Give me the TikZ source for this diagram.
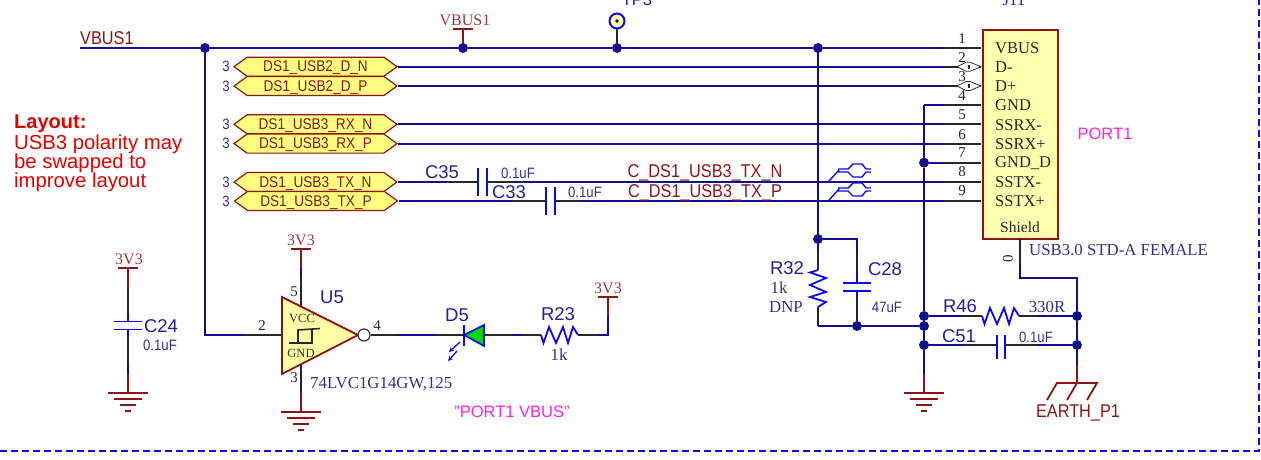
\documentclass[tikz,border=0pt]{standalone}
\usepackage{fontspec}
\setmainfont{Liberation Serif}
\setsansfont{Liberation Sans}
\newfontfamily\condsans[FakeStretch=0.88]{Liberation Sans}
\usetikzlibrary{shapes.symbols,arrows.meta}
\definecolor{wire}{HTML}{10108A}
\definecolor{plate}{HTML}{0A0AF0}
\definecolor{dred}{HTML}{8C1414}
\definecolor{lbl}{HTML}{20209A}
\definecolor{lblb}{HTML}{303090}
\definecolor{portfill}{HTML}{FFFF80}
\definecolor{boxfill}{HTML}{FFFFB0}
\definecolor{magentaT}{HTML}{FF20F0}
\tikzset{
  wr/.style={draw=wire,line width=1.8pt},
  stub/.style={draw=black!85,line width=1.8pt},
  rd/.style={draw=dred,line width=1.8pt},
  pl/.style={draw=plate,line width=1.8pt},
  dot/.style={circle,fill=wire,draw=none,minimum size=10pt,inner sep=0pt},
  refT/.style={font=\sffamily\fontsize{18.5}{18.5}\selectfont,text=lbl,inner sep=0pt},
  valT/.style={font=\condsans\fontsize{15}{15}\selectfont,text=lblb,inner sep=0pt},
  serT/.style={font=\fontsize{16.8}{16.8}\selectfont,text=lblb,inner sep=0pt},
  pinT/.style={font=\fontsize{15}{15}\selectfont,text=black!85,inner sep=0pt},
  boxT/.style={font=\fontsize{16.5}{16.5}\selectfont,text=black!85,inner sep=0pt,anchor=west},
  pwrT/.style={font=\fontsize{16}{16}\selectfont,text=dred!85!white,inner sep=0pt},
  netT/.style={font=\condsans\fontsize{18.5}{18.5}\selectfont,text=dred,inner sep=0pt},
  portnode/.style={shape=signal,signal to=west and east,signal pointer angle=72,draw=dred,fill=portfill,line width=1.2pt,minimum width=163pt,minimum height=19pt,inner sep=0pt,text height=10.5pt,text depth=0pt,font=\condsans\fontsize{15.5}{15.5}\selectfont,text=dred},
  magT/.style={font=\sffamily\fontsize{16.5}{16.5}\selectfont,text=magentaT,inner sep=0pt},
  zig/.pic={\draw[draw=plate,line width=1.8pt,line join=miter] (0,0)--(2.5,8)--(8,-8)--(15,8)--(22,-8)--(27,8)--(32,-8)--(37,0);},
  gndsym/.pic={\draw[rd] (-20,0)--(20,0) (-14,6)--(14,6) (-8,12)--(8,12) (-3,18)--(3,18);},
  pwrbar/.pic={\draw[rd] (-10,0)--(10,0);},
  dpmark/.pic={\draw[draw=plate,line width=1.4pt] (0,12)--(10,1) (9,0)--(19,0)--(24,-5)--(33,-5)--(37,0)--(42,0) (9,3)--(19,3)--(24,8)--(33,8)--(37,3)--(42,3);}
}
\begin{document}
\begin{tikzpicture}[x=1pt,y=-1pt]
\useasboundingbox (0,0) rectangle (1261,460);
% frame
\coordinate (fa) at (0,451); \coordinate (fb) at (1259,451); \coordinate (fc) at (1259,0);
\draw[draw=plate,line width=1.6pt,dash pattern=on 7pt off 4pt] (fa)--(fb)--(fc);
% connector
\node[draw=dred,fill=boxfill,line width=2pt,minimum width=75pt,minimum height=209pt,inner sep=0pt,anchor=north west] (J) at (982,29) {};
\foreach \n/\y in {1/48,2/66.7,3/86,4/105,5/124.3,6/143.6,7/162.7,8/182,9/201}{
  \coordinate (p\n) at (981,\y);
  \coordinate (s\n) at (943,\y);
}
\foreach \n/\y/\t in {1/48/VBUS,2/67.5/D-,3/86.5/D+,4/105.5/GND,5/125/SSRX-,6/144/SSRX+,7/163/GND\_D,8/182.5/SSTX-,9/201.5/SSTX+}
  \node[boxT] (t\n) at (995,\y) {\t};
\node[font=\fontsize{15.5}{15.5}\selectfont,text=black!85,inner sep=0pt] (shT) at (1020,227) {Shield};
\node[serT,text=lbl] (J11) at (1014,0) {J11};
\node[magT] (PORT) at (1105,134) {PORT1};
\node[serT,anchor=west] (usb) at (1029,250) {USB3.0 STD-A FEMALE};
\node[pinT,rotate=90] (zero) at (1008,259) {0};
% hex ports
\node[portnode] (a) at (315.5,66.7) {DS1\_USB2\_D\_N};
\node[portnode] (b) at (315.5,86) {DS1\_USB2\_D\_P};
\node[portnode] (c) at (315.5,124.3) {DS1\_USB3\_RX\_N};
\node[portnode] (d) at (315.5,143.6) {DS1\_USB3\_RX\_P};
\node[portnode] (e) at (315.5,182) {DS1\_USB3\_TX\_N};
\node[portnode] (f) at (316,201) {DS1\_USB3\_TX\_P};
\foreach \y/\q in {66.7/a,86/b,124.3/c,143.6/d,182/e,201/f}
  \node[valT] (k\q) at (226,\y) {3};
% junction coordinates
\coordinate (vs) at (80,48);
\node[dot] (j1) at (205,48) {};
\node[dot] (j2) at (463,48) {};
\node[dot] (j3) at (617,48) {};
\node[dot] (j4) at (818,48) {};
\node[dot] (j5) at (924,162.7) {};
\node[dot] (j6) at (818,239) {};
\node[dot] (j7) at (857,326) {};
\node[dot] (j8) at (924,316) {};
\node[dot] (j9) at (924,326) {};
\node[dot] (j10) at (924,345) {};
\node[dot] (j11) at (1077,316) {};
\node[dot] (j12) at (1077,345) {};
\coordinate (g4) at (924,105);
% main wires
\draw[wr] (vs)--(j1)--(j2)--(j3)--(j4)--(s1);
\draw[stub] (s1)--(p1);
\draw[wr] (a.east)--(s2); \draw[stub] (s2)--(p2);
\draw[wr] (b.east)--(s3); \draw[stub] (s3)--(p3);
\draw[wr] (c.east)--(s5); \draw[stub] (s5)--(p5);
\draw[wr] (d.east)--(s6); \draw[stub] (s6)--(p6);
\draw[wr] (g4)--(s4); \draw[stub] (s4)--(p4);
\draw[wr] (j5)--(s7); \draw[stub] (s7)--(p7);
% clock symbols on D-/D+
\foreach \n in {2,3}{
  \draw[draw=black!80,fill=white,line width=.8pt] ([xshift=-24pt]p\n) --([xshift=-15pt,yshift=-4.5pt]p\n)--([xshift=-11pt,yshift=-4.5pt]p\n)--(p\n)--([xshift=-11pt,yshift=4.5pt]p\n)--([xshift=-15pt,yshift=4.5pt]p\n)--cycle;
  \fill[black!85] ([xshift=-13.5pt,yshift=-2pt]p\n) rectangle ([xshift=-11.5pt,yshift=2pt]p\n);
}
\foreach \n/\y in {1/39,2/58,3/77,4/96,5/115,6/135,7/153,8/172,9/191}
  \node[pinT] (n\n) at (962,\y) {\n};
% series caps
\coordinate (c35l) at (478,182); \coordinate (c35r) at (487,182);
\coordinate (c33l) at (546,201); \coordinate (c33r) at (555,201);
\coordinate (e1) at (445,182); \coordinate (e2) at (513,182);
\coordinate (f1) at (511,201); \coordinate (f2) at (581,201);
\draw[wr] (e.east)--(e1); \draw[stub] (e1)--(c35l);
\draw[stub] (c35r)--(e2); \draw[wr] (e2)--(s8); \draw[stub] (s8)--(p8);
\draw[wr] (f.east)--(f1); \draw[stub] (f1)--(c33l);
\draw[stub] (c33r)--(f2); \draw[wr] (f2)--(s9); \draw[stub] (s9)--(p9);
\draw[pl] (478,168)--(478,196) (487,168)--(487,196);
\draw[pl] (546,187)--(546,215) (555,187)--(555,215);
\node[refT] (C35) at (442,172) {C35};
\node[valT] (v35) at (518,173) {0.1uF};
\node[refT] (C33) at (509,192) {C33};
\node[valT] (v33) at (585,192) {0.1uF};
\node[netT] (tn) at (705,172.5) {C\_DS1\_USB3\_TX\_N};
\node[netT] (tp) at (705,192.5) {C\_DS1\_USB3\_TX\_P};
\pic at (829,169) {dpmark};
\pic at (829,188) {dpmark};
% VBUS1 labels
\node[netT,anchor=west] (VB) at (80,38) {VBUS1};
\coordinate (pw1) at (463,29);
\draw[rd] (pw1)--(j2);
\pic at (pw1) {pwrbar};
\node[pwrT] (VB2) at (465,20) {VBUS1};
% test point
\node[circle,draw=plate,fill=portfill!70!white,line width=2pt,minimum size=15pt,inner sep=0pt] (TP) at (617,21) {};
\fill[black] (TP.center) circle (1.8pt);
\draw[stub] (TP.south)--(j3);
\node[font=\sffamily\fontsize{16.5}{16.5}\selectfont,text=lbl,inner sep=0pt] (TP3) at (637,0) {TP3};
% R32 C28
\coordinate (r32t) at (818,270); \coordinate (r32b) at (818,307);
\coordinate (r32c) at (818,326); \coordinate (c28t) at (857,239);
\coordinate (c28a) at (857,283); \coordinate (c28b) at (857,291);
\draw[wr] (j4)--(j6);
\draw[wr] (j6)--(818,250); \draw[stub] (818,250)--(r32t);
\pic[rotate=-90] at (r32t) {zig};
\draw[stub] (r32b)--(r32c); \draw[wr] (r32c)--(j7)--(j9);
\draw[wr] (j6)--(c28t)--(857,250); \draw[stub] (857,250)--(c28a);
\draw[stub] (c28b)--(j7);
\draw[pl] (843,283)--(871,283) (843,291)--(871,291) (857,275)--(c28a) (c28b)--(857,298);
\node[refT] (R32) at (787,268) {R32};
\node[serT] (r1k) at (779,288) {1k};
\node[serT] (dnp) at (786,307) {DNP};
\node[refT] (C28) at (885,269) {C28};
\node[valT] (v28) at (887,307) {47uF};
% ground rail
\coordinate (g1) at (924,374); \coordinate (g2) at (924,393);
\draw[wr] (g4)--(j5)--(j8)--(j9)--(j10)--(g1);
\draw[rd] (g1)--(g2);
\pic at (g2) {gndsym};
% R46 C51
\coordinate (r46l) at (982,316); \coordinate (r46r) at (1019,316);
\draw[wr] (j8)--(963,316); \draw[stub] (963,316)--(r46l);
\pic at (r46l) {zig};
\draw[stub] (r46r)--(1038,316); \draw[wr] (1038,316)--(j11);
\draw[wr] (j10)--(963,345); \draw[stub] (963,345)--(997,345);
\draw[stub] (1005,345)--(1038,345); \draw[wr] (1038,345)--(j12);
\draw[pl] (997,335)--(997,359) (1005,335)--(1005,359);
\node[refT] (R46) at (960,306) {R46};
\node[serT] (v46) at (1047,307) {330R};
\node[refT] (C51) at (959,336) {C51};
\node[valT] (v51) at (1036,337) {0.1uF};
% shield
\coordinate (sa) at (1020,239); \coordinate (sb) at (1020,278); \coordinate (sc) at (1077,278);
\coordinate (ea) at (1077,365); \coordinate (eb) at (1077,383);
\draw[wr,line join=miter] (sa)--(sb)--(sc)--(j11)--(j12)--(ea);
\draw[stub] (sa)--(1020,265);
\draw[rd] (ea)--(eb);
\draw[rd] (1047,400)--(1057,383)--(1097,383)--(1087,400) (eb)--(1067,400);
\node[netT,text=dred] (EARTH) at (1078,413) {EARTH\_P1};
% C24
\coordinate (a0) at (128,268); \coordinate (a1) at (128,287); \coordinate (a2) at (128,314);
\coordinate (a3) at (128,336); \coordinate (a4) at (128,365); \coordinate (a5) at (128,374); \coordinate (a6) at (128,393);
\draw[rd] (a0)--(a1); \draw[stub] (a1)--(a2); \draw[stub] (a3)--(a4); \draw[wr] (a4)--(a5); \draw[rd] (a5)--(a6);
\draw[pl] (114,321.5)--(142,321.5) (114,329.5)--(142,329.5) (a2)--(128,321.5) (128,329.5)--(a3);
\pic at (a0) {pwrbar};
\pic at (a6) {gndsym};
\node[pwrT] (p3a) at (129,259) {3V3};
\node[refT] (C24) at (161,326) {C24};
\node[valT] (v24) at (160,345) {0.1uF};
% U5
\coordinate (ua) at (282,297); \coordinate (ub) at (282,374); \coordinate (uc) at (358,335);
\coordinate (ui) at (282,335); \coordinate (ul) at (205,335); \coordinate (um) at (243,335);
\coordinate (v0) at (301,249); \coordinate (v1) at (301,268); \coordinate (v2) at (301,277); \coordinate (v3) at (301,306);
\coordinate (w0) at (301,365); \coordinate (w1) at (301,393); \coordinate (w2) at (301,412);
\draw[wr,line join=miter] (j1)--(ul)--(um); \draw[stub] (um)--(ui);
\draw[rd] (v0)--(v1); \draw[wr] (v1)--(v2); \draw[stub] (v2)--(v3);
\draw[stub] (w0)--(w1); \draw[rd] (w1)--(w2);
\pic at (v0) {pwrbar};
\pic at (w2) {gndsym};
\draw[draw=dred,fill=portfill!70!white,line width=1.8pt,line join=miter] (ua)--(uc)--(ub)--cycle;
\draw[draw=black!85,line width=1.6pt] (289,343)--(312,343)--(312,329) (298,343)--(298,330)--(320,328.5);
\node[circle,draw=black!80,fill=white,line width=1.2pt,minimum size=12pt,inner sep=0pt] (bub) at (364,335) {};
\node[pwrT] (p3b) at (301,240) {3V3};
\node[pinT] (n2x) at (262,326) {2};
\node[pinT] (n5x) at (294,292) {5};
\node[pinT] (n3x) at (294,378) {3};
\node[pinT] (n4x) at (377,326) {4};
\node[refT] (U5) at (332,297) {U5};
\node[font=\fontsize{12.5}{12.5}\selectfont,text=black!80,inner sep=0pt] (vcc) at (302,318) {VCC};
\node[font=\fontsize{12.5}{12.5}\selectfont,text=black!80,inner sep=0pt] (gnd) at (301,353) {GND};
\node[serT,anchor=west] (part) at (310,384) {74LVC1G14GW,125};
% D5 R23
\coordinate (db) at (464,335); \coordinate (dt) at (484,335);
\coordinate (ra) at (541,335); \coordinate (rb) at (578,335);
\coordinate (rc) at (608,335); \coordinate (rd2) at (608,297);
\draw[stub] (bub.east)--(397,335); \draw[wr] (397,335)--(435,335); \draw[stub] (435,335)--(db);
\draw[stub] (dt)--(512,335); \draw[wr] (512,335)--(522,335); \draw[stub] (522,335)--(ra);
\draw[fill=green!85!black,draw=plate,line width=1.6pt] (db)--(484,325)--(484,346)--cycle;
\draw[pl] (464,325)--(464,346);
\draw[draw=plate,line width=1.3pt,-{Stealth[length=5pt,width=5pt]}] (460,342)--(449,352);
\draw[draw=plate,line width=1.3pt,-{Stealth[length=5pt,width=5pt]}] (457,351)--(448,361);
\pic at (ra) {zig};
\draw[stub] (rb)--(598,335); \draw[wr,line join=miter] (598,335)--(rc)--(608,315); \draw[rd] (608,315)--(rd2);
\pic at (rd2) {pwrbar};
\node[pwrT] (p3c) at (608,288) {3V3};
\node[refT] (D5) at (457,315) {D5};
\node[refT] (R23) at (558,314) {R23};
\node[serT] (v23) at (559,355) {1k};
\node[magT] (pv) at (512,412) {"PORT1 VBUS"};
% note
\node[font=\sffamily\bfseries\fontsize{20}{20}\selectfont,text=red!90!black,inner sep=0pt,anchor=west] (n0) at (14,124) {Layout:};
\node[font=\sffamily\fontsize{20.3}{20.3}\selectfont,text=red!90!black,inner sep=0pt,anchor=west] (n1) at (14,144) {USB3 polarity may};
\node[font=\sffamily\fontsize{20.3}{20.3}\selectfont,text=red!90!black,inner sep=0pt,anchor=west] (n2b) at (14,163) {be swapped to};
\node[font=\sffamily\fontsize{20.3}{20.3}\selectfont,text=red!90!black,inner sep=0pt,anchor=west] (n3) at (14,182) {improve layout};
\end{tikzpicture}
\end{document}
